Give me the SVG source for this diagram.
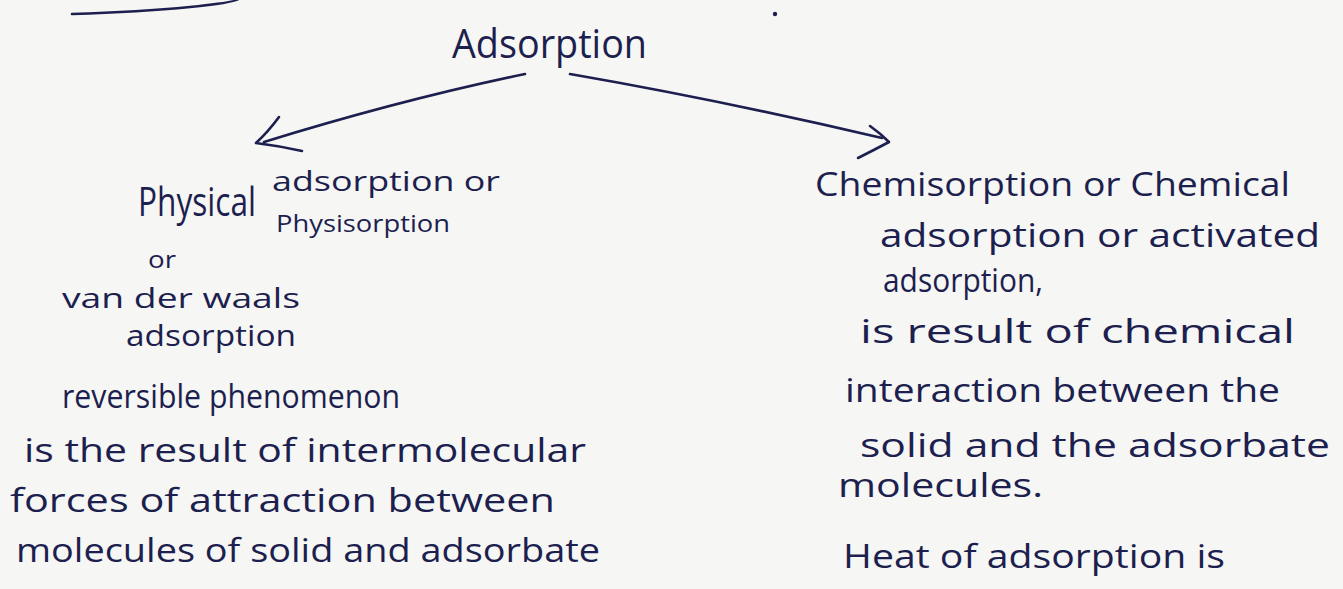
<svg xmlns="http://www.w3.org/2000/svg" width="1343" height="589" viewBox="0 0 1343 589">
<style>
.bg{fill:#f6f6f5}
.t{font-family:"Open Sans","DejaVu Sans",sans-serif;fill:#1d1f4e;font-weight:400}
.ink{fill:none;stroke:#1d1f4e;stroke-width:2.6;stroke-linecap:round;stroke-linejoin:round}
</style>
<rect class="bg" x="0" y="0" width="1343" height="589"/>
<g id="marks">
<path class="ink" d="M72 14 Q140 12 190 7 T240 -2"/>
<circle cx="775" cy="14" r="2.2" fill="#1d1f4e"/>
</g>
<g id="node-adsorption">
<text class="t" x="452" y="58" font-size="40" textLength="195" lengthAdjust="spacingAndGlyphs">Adsorption</text>
</g>
<g id="connectors">
<path class="ink" d="M525 74 Q400 100 264 142"/>
<path class="ink" d="M279 117 Q268 132 256 143 Q280 146 302 151"/>
<path class="ink" d="M570 74 Q720 100 882 138"/>
<path class="ink" d="M870 126 Q880 133 889 142 Q874 150 858 158"/>
</g>
<g id="node-physical">
<text class="t" x="138" y="216" font-size="40" textLength="118" lengthAdjust="spacingAndGlyphs">Physical</text>
<text class="t" x="272" y="191" font-size="28" textLength="228" lengthAdjust="spacingAndGlyphs">adsorption or</text>
<text class="t" x="276" y="232" font-size="24" textLength="174" lengthAdjust="spacingAndGlyphs">Physisorption</text>
<text class="t" x="148" y="268" font-size="24" textLength="28" lengthAdjust="spacingAndGlyphs">or</text>
<text class="t" x="62" y="308" font-size="28" textLength="238" lengthAdjust="spacingAndGlyphs">van der waals</text>
<text class="t" x="126" y="346" font-size="30" textLength="170" lengthAdjust="spacingAndGlyphs">adsorption</text>
<text class="t" x="62" y="408" font-size="32" textLength="338" lengthAdjust="spacingAndGlyphs">reversible phenomenon</text>
<text class="t" x="24" y="462" font-size="32" textLength="562" lengthAdjust="spacingAndGlyphs">is the result of intermolecular</text>
<text class="t" x="10" y="512" font-size="32" textLength="545" lengthAdjust="spacingAndGlyphs">forces of attraction between</text>
<text class="t" x="16" y="562" font-size="32" textLength="584" lengthAdjust="spacingAndGlyphs">molecules of solid and adsorbate</text>
</g>
<g id="node-chemical">
<text class="t" x="815" y="196" font-size="32" textLength="475" lengthAdjust="spacingAndGlyphs">Chemisorption or Chemical</text>
<text class="t" x="880" y="247" font-size="32" textLength="440" lengthAdjust="spacingAndGlyphs">adsorption or activated</text>
<text class="t" x="883" y="292" font-size="32" textLength="160" lengthAdjust="spacingAndGlyphs">adsorption,</text>
<text class="t" x="860" y="343" font-size="32" textLength="435" lengthAdjust="spacingAndGlyphs">is result of chemical</text>
<text class="t" x="845" y="402" font-size="32" textLength="435" lengthAdjust="spacingAndGlyphs">interaction between the</text>
<text class="t" x="860" y="457" font-size="32" textLength="470" lengthAdjust="spacingAndGlyphs">solid and the adsorbate</text>
<text class="t" x="838" y="497" font-size="32" textLength="205" lengthAdjust="spacingAndGlyphs">molecules.</text>
<text class="t" x="843" y="568" font-size="32" textLength="382" lengthAdjust="spacingAndGlyphs">Heat of adsorption is</text>
</g>
</svg>
